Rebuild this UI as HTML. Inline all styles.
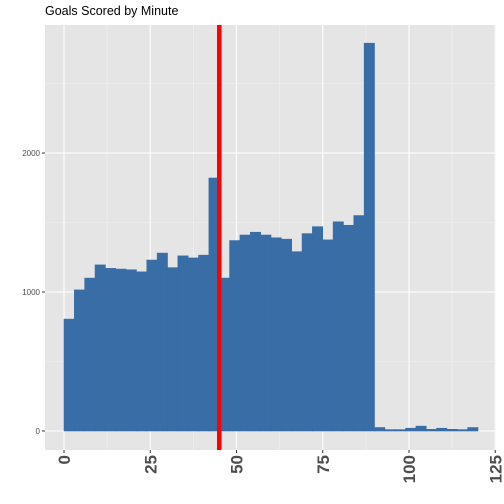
<!DOCTYPE html>
<html><head><meta charset="utf-8"><style>body{margin:0;background:#fff}svg{display:block}</style></head>
<body>
<svg id="chart" width="504" height="504" font-family="Liberation Sans, sans-serif">
<text x="45" y="15" font-size="12.5" fill="#000">Goals Scored by Minute</text>
<rect x="45" y="25" width="451" height="425" fill="#e5e5e5"/>
<g id="grid"></g><g id="bars"></g><g id="axes"></g>
</svg>
<script>
const binStarts=[0,3,6,9,12,15,18,21,24,27,30,33,36,39,42,45,48,51,54,57,60,63,66,69,72,75,78,81,84,87,90,93,96,99,102,105,108,111,114,117];
const counts=[805,1015,1100,1195,1170,1165,1160,1145,1230,1280,1175,1260,1245,1265,1820,1100,1370,1410,1430,1410,1390,1380,1290,1420,1470,1375,1505,1480,1550,2790,25,10,10,20,35,12,20,12,10,25];
const binWidth=3;
const xTicks=[0,25,50,75,100,125];
const yTicks=[0,1000,2000];
const halftime=45;
const X=v=>64+v*3.45, Y=v=>431-v*0.139;
const ns="http://www.w3.org/2000/svg";
function mk(p,t,a){const e=document.createElementNS(ns,t);for(const k in a)e.setAttribute(k,a[k]);p.appendChild(e);return e;}
const g=document.getElementById('grid'),b=document.getElementById('bars'),ax=document.getElementById('axes');
for(let i=0;i<xTicks.length;i++){
 const v=xTicks[i];
 if(i<xTicks.length-1){const m=mk(g,'line',{x1:X(v+12.5),x2:X(v+12.5),y1:25,y2:450,stroke:'#f2f2f2','stroke-width':0.6});
 }
 const l=mk(g,'line',{x1:X(v),x2:X(v),y1:25,y2:450,stroke:'#fff','stroke-width':1.1});
 
 const t=mk(ax,'line',{x1:X(v),x2:X(v),y1:450,y2:453,stroke:'#333'});
 
 const tx=mk(ax,'text',{transform:`translate(${X(v)+6},455) rotate(-90)`,'text-anchor':'end','font-size':17,'font-weight':'bold',fill:'#4d4d4d'});
 tx.textContent=v;
}
for(let i=0;i<yTicks.length;i++){
 const v=yTicks[i];
 const m=mk(g,'line',{x1:45,x2:496,y1:Y(v+500),y2:Y(v+500),stroke:'#f2f2f2','stroke-width':0.6});
 
 const l=mk(g,'line',{x1:45,x2:496,y1:Y(v),y2:Y(v),stroke:'#fff','stroke-width':1.1});
 
 const t=mk(ax,'line',{x1:42,x2:45,y1:Y(v),y2:Y(v),stroke:'#333'});
 
 const tx=mk(ax,'text',{x:40,y:Y(v)+3,'text-anchor':'end','font-size':8,fill:'#4d4d4d'});
 tx.textContent=v;
}
for(let i=0;i<counts.length;i++){
 const r=mk(b,'rect',{x:X(binStarts[i]),y:Y(counts[i]),width:X(binStarts[i]+binWidth)-X(binStarts[i]),height:Y(0)-Y(counts[i]),fill:'#386da6',stroke:'#386da6','stroke-width':0.6});
 
}
const h=mk(b,'line',{x1:X(halftime),x2:X(halftime),y1:25,y2:450,stroke:'#ff0000','stroke-width':4.5});

</script>
</body></html>
